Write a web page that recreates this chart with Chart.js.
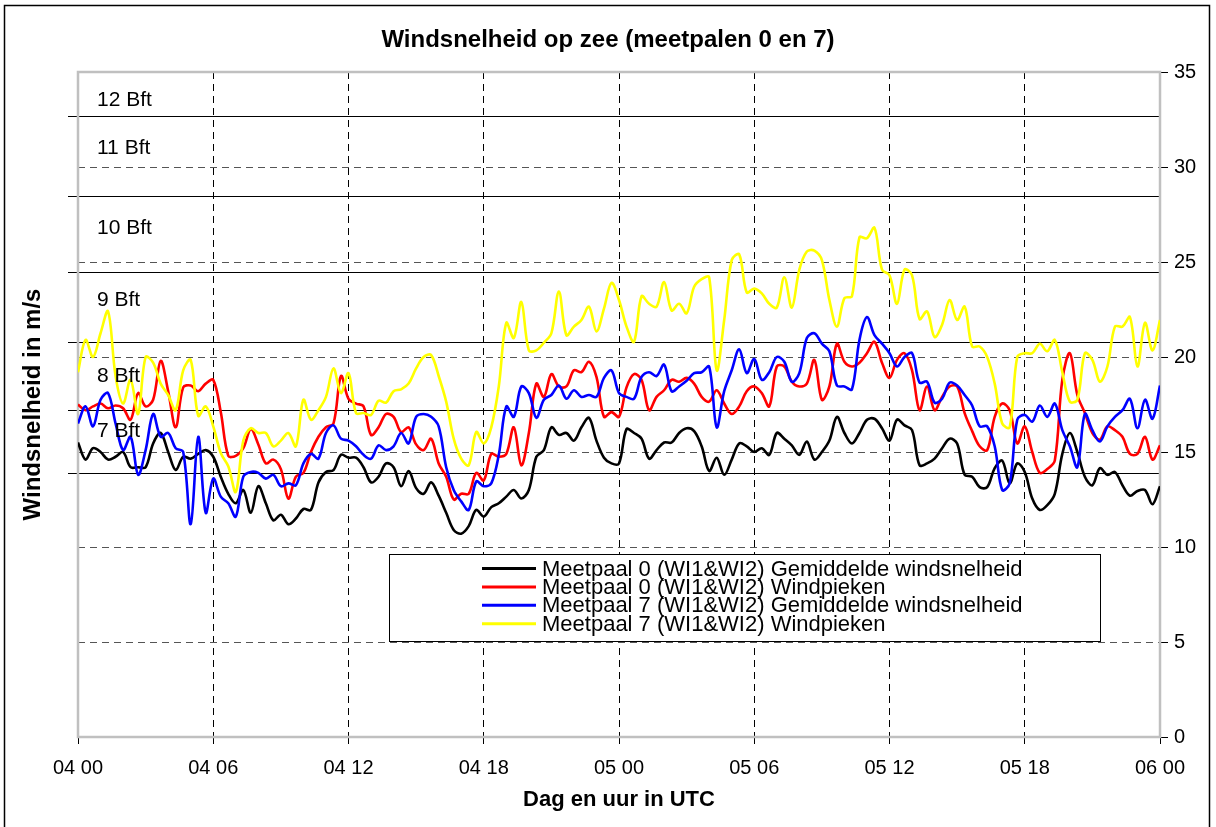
<!DOCTYPE html>
<html>
<head>
<meta charset="utf-8">
<script src="https://cdn.jsdelivr.net/npm/chart.js@4.4.1/dist/chart.umd.min.js"></script>
<style>
  body { margin: 0; background: #fff; }
  #wrap { position: relative; width: 1216px; height: 827px; }
</style>
</head>
<body>
<div id="wrap"><canvas id="windChart" width="1216" height="827"></canvas></div>
<script>
// 20-minute values, 04 00 UTC to 06 00 UTC
const mp0Mean = [
  15.5, 14.6, 15.2, 15.0, 14.6, 14.75, 15.0, 14.2, 14.2, 14.2,
  15.45, 16.0, 15.0, 14.05, 14.75, 14.65, 14.9, 15.1, 14.75, 13.7,
  12.8, 12.3, 13.0, 11.8, 13.2, 12.3, 11.4, 11.7, 11.2, 11.5,
  12.0, 11.95, 13.4, 13.95, 14.05, 14.85, 14.7, 14.7, 14.2, 13.4,
  13.7, 14.4, 14.2, 13.2, 14.0, 13.1, 12.8, 13.4, 12.7, 11.8,
  10.9, 10.7, 11.1, 11.95, 11.6, 12.1, 12.3, 12.65, 13.0, 12.55,
  13.0, 14.75, 15.1, 16.3, 15.9, 16.0, 15.6, 16.3, 16.8, 15.6,
  14.7, 14.4, 14.4, 16.2, 16.0, 15.7, 14.65, 15.1, 15.5, 15.5,
  16.0, 16.25, 16.1, 15.3, 14.0, 14.7, 13.8, 14.6, 15.45, 15.3,
  15.0, 15.2, 14.85, 16.0, 15.7, 15.35, 14.85, 15.55, 14.6, 15.0,
  15.6, 16.85, 16.0, 15.45, 16.0, 16.7, 16.75, 16.25, 15.6, 16.7,
  16.4, 16.15, 14.3, 14.4, 14.65, 15.2, 15.7, 15.45, 13.8, 13.7,
  13.15, 13.15, 14.15, 14.55, 13.35, 14.4, 13.95, 12.55, 11.95, 12.2,
  12.8, 14.9, 16.0, 15.0, 13.7, 13.25, 14.15, 13.8, 13.95, 13.25,
  12.7, 12.95, 13.0, 12.25, 13.2
];
const mp0Gust = [
  17.5, 17.2, 17.4, 17.55, 17.3, 17.45, 17.3, 16.7, 18.1, 17.4,
  17.75, 19.8, 18.2, 16.3, 18.4, 18.5, 18.2, 18.6, 18.8, 17.1,
  14.8, 14.8, 15.2, 16.2, 15.4, 14.4, 14.6, 14.1, 12.55, 13.7,
  13.9, 15.0, 15.8, 16.3, 16.5, 19.0, 17.8, 17.55, 17.4, 15.9,
  16.3, 17.0, 16.85, 16.05, 16.3, 15.4, 15.1, 15.7, 14.4, 13.7,
  12.5, 12.8, 12.8, 13.9, 13.5, 14.9, 14.75, 14.9, 16.3, 14.3,
  16.0, 18.6, 17.9, 19.1, 18.45, 18.45, 19.3, 19.2, 19.75, 18.95,
  16.85, 17.1, 16.85, 18.4, 19.1, 18.8, 17.2, 17.9, 18.25, 18.8,
  18.7, 18.9, 18.6, 17.9, 17.65, 18.25, 17.55, 17.0, 17.4, 18.2,
  18.45, 18.1, 17.4, 19.5, 19.5, 18.7, 18.45, 18.6, 19.85, 17.75,
  18.45, 20.7, 19.75, 19.5, 19.7, 20.2, 20.8, 19.7, 18.9, 19.85,
  20.2, 19.3, 17.2, 18.45, 17.2, 17.9, 18.45, 18.45, 17.05, 16.1,
  15.3, 15.1, 16.85, 17.55, 17.2, 15.45, 16.35, 15.0, 13.9, 14.1,
  14.55, 18.8, 20.2, 18.0, 17.05, 16.0, 15.65, 16.35, 16.15, 15.8,
  14.9, 14.9, 15.8, 14.6, 15.35
];
const mp7Mean = [
  16.5, 17.4, 16.35, 17.75, 18.1, 16.5, 15.1, 15.8, 13.8, 15.1,
  17.0, 15.8, 16.0, 15.2, 15.0, 11.2, 15.8, 11.8, 13.6, 12.65,
  12.3, 11.6, 13.7, 13.95, 13.9, 13.6, 13.8, 13.2, 13.35, 13.25,
  14.4, 14.9, 14.65, 16.0, 16.4, 15.7, 15.6, 15.3, 14.85, 14.65,
  15.35, 15.1, 15.3, 16.0, 15.45, 16.85, 17.0, 16.85, 16.35, 14.2,
  13.0, 12.4, 11.95, 13.45, 13.2, 13.35, 14.85, 17.4, 16.85, 18.45,
  18.1, 16.8, 17.75, 18.0, 18.5, 17.8, 18.25, 17.9, 18.0, 17.9,
  18.9, 19.3, 18.1, 17.9, 17.8, 18.95, 19.2, 19.0, 19.6, 18.2,
  18.45, 18.75, 19.15, 19.2, 19.5, 16.3, 18.2, 19.3, 20.4, 19.15,
  19.9, 18.8, 19.2, 20.0, 19.75, 18.7, 19.15, 21.0, 21.25, 20.7,
  20.3, 18.5, 18.45, 18.3, 20.9, 22.1, 21.15, 20.7, 20.2, 19.5,
  20.0, 20.2, 18.65, 18.7, 17.6, 17.8, 18.65, 18.5, 18.0, 17.45,
  16.35, 16.35, 15.3, 13.0, 13.35, 16.7, 16.95, 16.6, 17.45, 16.85,
  17.55, 16.15, 15.3, 14.2, 17.0, 16.15, 15.55, 16.35, 16.85, 17.2,
  17.8, 16.25, 17.75, 16.75, 18.5
];
const mp7Gust = [
  19.2, 20.9, 20.0, 21.25, 22.4, 19.0, 17.55, 18.8, 17.0, 20.0,
  19.7, 18.6, 18.0, 17.2, 19.3, 19.85, 16.9, 17.4, 16.35, 14.95,
  14.25, 12.9, 15.6, 16.25, 16.0, 16.0, 15.3, 15.6, 16.0, 15.3,
  17.75, 16.7, 17.2, 17.9, 19.4, 18.1, 19.15, 17.05, 17.05, 16.95,
  17.7, 17.6, 18.2, 18.3, 18.6, 19.4, 20.0, 20.1, 19.0, 17.65,
  15.7, 14.65, 14.3, 16.05, 15.45, 16.3, 18.45, 21.8, 21.0, 22.9,
  20.35, 20.35, 20.75, 21.25, 23.45, 21.15, 21.6, 21.95, 22.65, 21.35,
  22.55, 23.9, 23.0, 21.6, 20.8, 23.2, 22.8, 22.65, 23.95, 22.45,
  22.8, 22.3, 23.7, 24.1, 24.2, 19.3, 21.95, 25.1, 25.4, 23.4,
  23.6, 23.35, 22.8, 22.6, 24.2, 22.6, 24.6, 25.55, 25.6, 25.1,
  23.0, 21.6, 23.1, 23.2, 26.3, 26.25, 26.8, 24.6, 24.3, 22.8,
  24.6, 24.3, 22.0, 22.4, 21.05, 21.7, 23.0, 21.95, 22.65, 20.55,
  20.55, 20.0, 18.6, 16.5, 16.3, 20.0, 20.2, 20.2, 20.7, 20.3,
  20.9, 19.2, 17.65, 17.75, 20.2, 19.85, 18.7, 19.5, 21.6, 21.6,
  22.1, 19.5, 21.8, 20.35, 21.95
];

const xTickLabels = ['04 00', '04 06', '04 12', '04 18', '05 00', '05 06', '05 12', '05 18', '06 00'];
const seriesNames = [
  'Meetpaal 0 (WI1&WI2) Gemiddelde windsnelheid',
  'Meetpaal 0 (WI1&WI2) Windpieken',
  'Meetpaal 7 (WI1&WI2) Gemiddelde windsnelheid',
  'Meetpaal 7 (WI1&WI2) Windpieken'
];
const bftBounds = [13.9, 17.2, 20.8, 24.5, 28.5, 32.7];
const bftNames = ['7 Bft', '8 Bft', '9 Bft', '10 Bft', '11 Bft', '12 Bft'];
const bftTextAt = [16.1, 19.0, 23.0, 26.8, 31.0, 33.5];

const stepHours = 1 / 3;
function toPoints(values) {
  return values.map((v, i) => ({ x: i * stepHours, y: v }));
}

const FONT = 'Arial, "Liberation Sans", sans-serif';

const bftPlugin = {
  id: 'bft',
  beforeDatasetsDraw(chart) {
    const { ctx, chartArea } = chart;
    const y = chart.scales.y;
    ctx.save();
    ctx.strokeStyle = '#000';
    ctx.lineWidth = 1.2;
    bftBounds.forEach((b) => {
      const py = Math.round(y.getPixelForValue(b)) + 0.5;
      ctx.beginPath();
      ctx.moveTo(chartArea.left - 10, py);
      ctx.lineTo(chartArea.right, py);
      ctx.stroke();
    });
    // plot frame
    ctx.strokeStyle = '#c0c0c0';
    ctx.lineWidth = 2.5;
    ctx.strokeRect(chartArea.left, chartArea.top, chartArea.right - chartArea.left, chartArea.bottom - chartArea.top);
    ctx.restore();
  },
  afterDatasetsDraw(chart) {
    const { ctx, chartArea } = chart;
    const y = chart.scales.y;
    ctx.save();
    ctx.fillStyle = '#000';
    ctx.font = '21px ' + FONT;
    ctx.textBaseline = 'middle';
    bftNames.forEach((name, i) => {
      ctx.fillText(name, chartArea.left + 19, y.getPixelForValue(bftTextAt[i]));
    });
    ctx.restore();
  }
};

const legendPlugin = {
  id: 'boxLegend',
  afterDraw(chart) {
    const { ctx } = chart;
    ctx.save();
    ctx.fillStyle = '#fff';
    ctx.fillRect(389, 554, 711, 87);
    ctx.strokeStyle = '#000';
    ctx.lineWidth = 1;
    ctx.strokeRect(389.5, 554.5, 711, 87);
    ctx.font = '22px ' + FONT;
    ctx.textBaseline = 'middle';
    chart.data.datasets.forEach((ds, i) => {
      const rowY = 568.5 + i * 18.4;
      ctx.strokeStyle = ds.borderColor;
      ctx.lineWidth = 3;
      ctx.beginPath();
      ctx.moveTo(482, rowY);
      ctx.lineTo(536, rowY);
      ctx.stroke();
      ctx.fillStyle = '#000';
      ctx.fillText(ds.label, 542, rowY + 1);
    });
    // outer frame
    ctx.strokeStyle = '#000';
    ctx.lineWidth = 1.5;
    ctx.strokeRect(4.5, 5.5, 1205, 840);
    ctx.restore();
  }
};

const colors = ['#000000', '#ff0000', '#0000ff', '#ffff00'];
const allSeries = [mp0Mean, mp0Gust, mp7Mean, mp7Gust];

new Chart(document.getElementById('windChart'), {
  type: 'line',
  data: {
    datasets: allSeries.map((vals, i) => ({
      label: seriesNames[i],
      data: toPoints(vals),
      borderColor: colors[i],
      backgroundColor: colors[i],
      borderWidth: 2.6,
      pointRadius: 0,
      tension: 0.35,
      fill: false,
      order: 3 - i
    }))
  },
  options: {
    responsive: false,
    animation: false,
    devicePixelRatio: 1,
    layout: { padding: 0 },
    plugins: {
      legend: { display: false },
      tooltip: { enabled: false },
      title: {
        display: true,
        text: 'Windsnelheid op zee (meetpalen 0 en 7)',
        color: '#000',
        font: { family: FONT, size: 24, weight: 'bold' },
        padding: { top: 26, bottom: 17.2 }
      }
    },
    scales: {
      x: {
        type: 'linear',
        position: 'bottom',
        min: 0,
        max: 48,
        afterFit: (s) => { s.height = 90; },
        ticks: {
          stepSize: 6,
          autoSkip: false,
          maxRotation: 0,
          color: '#000',
          padding: 12,
          font: { family: FONT, size: 20 },
          callback: (v) => xTickLabels[v / 6]
        },
        grid: {
          color: (c) => (c.tick && (c.tick.value === 0 || c.tick.value === 48)) ? 'rgba(0,0,0,0)' : '#000',
          lineWidth: 1,
          tickLength: 7,
          tickColor: '#000'
        },
        border: { display: false, dash: [7, 5] },
        title: {
          display: true,
          text: 'Dag en uur in UTC',
          color: '#000',
          font: { family: FONT, size: 22, weight: 'bold' },
          padding: { top: 0, bottom: 14 }
        }
      },
      y: {
        position: 'right',
        min: 0,
        max: 35,
        afterFit: (s) => { s.width = 56; },
        ticks: {
          stepSize: 5,
          color: '#000',
          padding: 6,
          font: { family: FONT, size: 20 }
        },
        grid: {
          color: (c) => (c.tick && (c.tick.value === 0 || c.tick.value === 35)) ? 'rgba(0,0,0,0)' : '#555',
          lineWidth: 1,
          tickLength: 8,
          tickColor: '#000'
        },
        border: { display: false, dash: [7, 5] }
      },
      yLeft: {
        position: 'left',
        min: 0,
        max: 35,
        afterFit: (s) => { s.width = 78; },
        ticks: { display: false },
        grid: { drawOnChartArea: false, drawTicks: false },
        border: { display: false },
        title: {
          display: true,
          text: 'Windsnelheid in m/s',
          color: '#000',
          font: { family: FONT, size: 24, weight: 'bold' },
          padding: { top: 19, bottom: 0 }
        }
      }
    }
  },
  plugins: [bftPlugin, legendPlugin]
});
</script>
</body>
</html>
